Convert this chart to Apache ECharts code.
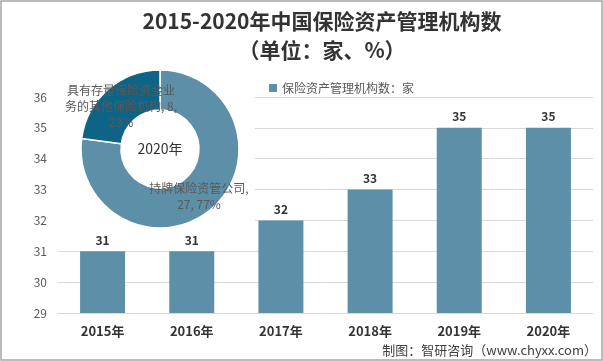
<!DOCTYPE html>
<html><head><meta charset="utf-8">
<script src="https://cdn.jsdelivr.net/npm/echarts@6/dist/echarts.min.js"></script>
<style>html,body{margin:0;padding:0;background:#fff}#c{width:603px;height:361px}</style>
</head><body><div id="c"></div>
<script>
var years = ['2015年','2016年','2017年','2018年','2019年','2020年'];
var counts = [31,31,32,33,35,35];
var pieNames = ['持牌保险资管公司','具有存量保险资金业务的其他保险机构'];
var pieValues = [27,8];
var pieYear = '2020年';
var seriesName = '保险资产管理机构数：家';

var FONT = '"Noto Sans CJK SC", "Noto Sans", sans-serif';
var chart = echarts.init(document.getElementById('c'));
chart.setOption({
  animation:false,
  backgroundColor:'#fff',
  textStyle:{fontFamily:FONT},
  title:{
    text:'2015-2020年中国保险资产管理机构数\n（单位：家、%）',
    left:317, top:2, textAlign:'center',
    textStyle:{fontSize:21, fontWeight:'bold', color:'#333', lineHeight:29, fontFamily:FONT}
  },
  legend:{
    data:[seriesName], left:264, top:77, icon:'rect', itemWidth:8, itemHeight:8, itemGap:4,
    textStyle:{fontSize:12, color:'#595959', fontFamily:FONT}
  },
  grid:{left:58, right:10, top:97, bottom:48},
  xAxis:{
    type:'category', data:years,
    axisLine:{lineStyle:{color:'#d9d9d9'}}, axisTick:{show:false},
    axisLabel:{fontSize:13, fontWeight:'bold', color:'#333', margin:12, fontFamily:FONT}
  },
  yAxis:{
    type:'value', min:29, max:36, interval:1,
    axisLine:{show:false}, axisTick:{show:false},
    axisLabel:{fontSize:12, color:'#595959', margin:11, fontFamily:FONT},
    splitLine:{lineStyle:{color:'#d9d9d9'}}
  },
  graphic:[
    {type:'rect', z:1, silent:true, shape:{x:54,y:60,width:201,height:176}, style:{fill:'#fff'}},
    {type:'rect', z:10, silent:true, shape:{x:1,y:1,width:601,height:359}, style:{fill:'none', stroke:'#a6a6a6', lineWidth:1.5}},
    {type:'text', z:10, right:6, bottom:4, style:{text:'制图：智研咨询（www.chyxx.com）', fontSize:13, fill:'#404040', fontFamily:FONT}},
    {type:'text', z:10, x:160, y:149, style:{text:pieYear, fontSize:14, fill:'#333', fontFamily:FONT, align:'center', verticalAlign:'middle'}}
  ],
  series:[
    {
      name:seriesName, type:'bar', data:counts, barWidth:45,
      itemStyle:{color:'#5d8fa8'},
      label:{show:true, position:'top', distance:5, fontSize:12, fontWeight:'bold', color:'#333', fontFamily:FONT}
    },
    {
      type:'pie', z:3, center:[160,149], radius:[39,79], startAngle:90, clockwise:true,
      itemStyle:{borderColor:'#fff', borderWidth:1.5},
      data:pieNames.map(function(n,i){return {name:n, value:pieValues[i], itemStyle:{color:i===0?'#5d8fa8':'#0e6486'}};}),
      label:{
        show:true, position:'inside', fontSize:12, color:'#595959', lineHeight:16, fontFamily:FONT,
        formatter:function(p){
          if(p.dataIndex===1){return '具有存量保险资金业\n务的其他保险机构, '+p.value+',\n'+Math.round(p.percent)+'%';}
          return p.name+',\n'+p.value+', '+Math.round(p.percent)+'%';
        }
      },
      labelLine:{show:false},
      labelLayout:function(p){
        return p.dataIndex===1 ? {x:121, y:106, align:'center', verticalAlign:'middle'} : {x:199, y:196, align:'center', verticalAlign:'middle'};
      }
    }
  ]
});
</script></body></html>
